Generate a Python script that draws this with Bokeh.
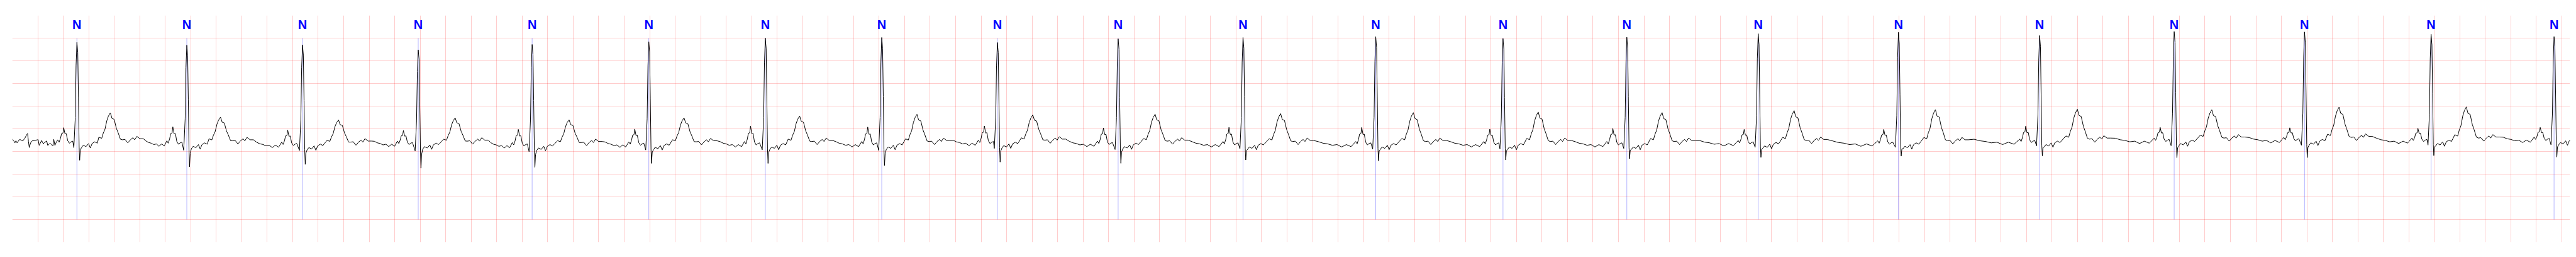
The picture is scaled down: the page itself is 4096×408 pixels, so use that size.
import numpy as np
from bokeh.plotting import figure
from bokeh.models import Range1d, FixedTicker, Grid, ColumnDataSource
from bokeh.core.properties import value
from bokeh.embed import file_html
from bokeh.resources import INLINE

# ---------------- data (time in s, amplitude in mV) ----------------
r_time = [0.5072, 1.3691, 2.2767, 3.1845, 4.0781, 4.9932, 5.9071, 6.8206, 7.7276, 8.6749,
          9.6544, 10.6956, 11.6938, 12.6652, 13.6957, 14.7959, 15.9031, 16.9588, 17.9812,
          18.9741, 19.9388]
r_amp = [2.406, 2.343, 2.350, 2.242, 2.360, 2.418, 2.502, 2.514, 2.403, 2.484, 2.514,
         2.532, 2.489, 2.519, 2.597, 2.628, 2.557, 2.645, 2.635, 2.587, 2.534]
s_amp = [-0.193, -0.338, -0.285, -0.369, -0.348, -0.263, -0.263, -0.308, -0.233, -0.261,
         -0.187, -0.205, -0.187, -0.159, -0.129, -0.104, -0.097, -0.137, -0.135, -0.089, -0.122]
t_time = [0.7694, 1.6334, 2.5592, 3.4743, 4.3679, 5.2696, 6.1766, 7.0970, 8.0054, 8.9647,
          9.9495, 10.9907, 11.9702, 12.9417, 13.9775, 15.0857, 16.1994, 17.2540, 18.2523, 19.2505]
t_amp = [0.853, 0.757, 0.696, 0.742, 0.699, 0.742, 0.782, 0.819, 0.807, 0.822, 0.835,
         0.857, 0.870, 0.857, 0.900, 0.923, 0.931, 0.921, 0.978, 0.983]
p_time = [0.4036, 1.2596, 2.1607, 3.0683, 3.9697, 4.8831, 5.7912, 6.7106, 7.6257, 8.5595,
          9.5443, 10.5856, 11.5905, 12.5552, 13.5857, 14.6805, 15.7942, 16.8488, 17.8658,
          18.8708, 19.8301]
p_amp = [0.525, 0.543, 0.472, 0.462, 0.487, 0.495, 0.558, 0.538, 0.563, 0.520, 0.532,
         0.530, 0.492, 0.510, 0.487, 0.487, 0.558, 0.532, 0.523, 0.513, 0.530]
base = [0.198, 0.175, 0.147, 0.168, 0.137, 0.153, 0.160, 0.160, 0.190, 0.168, 0.160,
        0.160, 0.160, 0.160, 0.183, 0.175, 0.213, 0.236, 0.251, 0.236, 0.258]
labels = ["N"] * len(r_time)

# trace before the first beat
lead_t = [0.0000, 0.0099, 0.0207, 0.0287, 0.0381, 0.0475, 0.0582, 0.0690, 0.0824, 0.0996,
          0.1132, 0.1200, 0.1269, 0.1334, 0.1436, 0.1548, 0.1750, 0.2031, 0.2112, 0.2300,
          0.2434, 0.2568, 0.2703, 0.2783, 0.2971, 0.3185, 0.3255, 0.3346, 0.3454]
lead_v = [0.268, 0.243, 0.190, 0.236, 0.190, 0.228, 0.268, 0.251, 0.232, 0.296,
          0.372, 0.398, 0.224, 0.087, 0.190, 0.232, 0.243, 0.261, 0.134, 0.243,
          0.171, 0.205, 0.232, 0.134, 0.183, 0.122, 0.268, 0.134, 0.205]

# beat shape read from the first beat: offset (s), part, fraction of that part's height
# ('n' = plain offset in mV from the baseline)
p_dt = [-0.047, -0.036, -0.025, -0.017, -0.006, 0.0, 0.010, 0.020, 0.031, 0.044, 0.058, 0.071]
p_kind = ["n", "n", "p", "p", "p", "p", "p", "p", "p", "n", "n", "n"]
p_val = [0.060, 0.008, 0.29, 0.60, 0.64, 1.0, 0.58, 0.60, 0.13, -0.015, 0.015, 0.030]

q_dt = [-0.024, -0.013, -0.0067, 0.0, 0.0067, 0.012, 0.0174, 0.0215, 0.0268, 0.036, 0.050,
        0.071, 0.091, 0.105, 0.119, 0.140, 0.160]
q_kind = ["s", "r", "r", "r", "r", "r", "s", "s", "s", "n", "n", "n", "n", "n", "n", "n", "n"]
q_val = [0.29, 0.25, 0.77, 1.0, 0.9, 0.445, 0.25, 1.0, 0.42, -0.113, -0.060, -0.091, -0.023,
         -0.121, -0.023, 0.015, -0.015]

tw_dt = [-0.090, -0.068, -0.055, -0.042, -0.028, -0.015, 0.0, 0.013, 0.030, 0.047, 0.060,
         0.079, 0.095, 0.115, 0.137, 0.157, 0.177, 0.191, 0.208, 0.232, 0.259]
tw_kind = ["t"] * 12 + ["n"] * 9
tw_val = [0.18, 0.14, 0.32, 0.45, 0.73, 0.89, 1.0, 0.81, 0.78, 0.48, 0.34, 0.11,
          0.060, 0.068, -0.008, 0.060, 0.106, 0.060, 0.136, 0.083, 0.083]

tp_val = [0.057, 0.023, 0.008, -0.023, -0.008, -0.060, -0.008, -0.053]

# ---------------- build the trace ----------------
amps = {"p": p_amp, "r": r_amp, "s": s_amp, "t": t_amp}


def level(kind, frac, i, b):
    if kind == "n":
        return b + frac
    return b + frac * (amps[kind][i] - b)


xs, ys = list(lead_t), list(lead_v)
nb = len(r_time)
for i in range(nb):
    b = base[i]
    for dt, k, f in zip(p_dt, p_kind, p_val):
        xs.append(p_time[i] + dt); ys.append(level(k, f, i, b))
    for dt, k, f in zip(q_dt, q_kind, q_val):
        xs.append(r_time[i] + dt); ys.append(level(k, f, i, b))
    if i < len(t_time):
        for dt, k, f in zip(tw_dt, tw_kind, tw_val):
            xs.append(t_time[i] + dt); ys.append(level(k, f, i, b))
        if i + 1 < nb:
            g0 = t_time[i] + tw_dt[-1]
            g1 = p_time[i + 1] + p_dt[0]
            m = len(tp_val)
            for j, f in enumerate(tp_val):
                xs.append(g0 + (j + 1) * (g1 - g0) / (m + 1)); ys.append(base[i + 1] + f)

# ---------------- figure ----------------
p = figure(width=4092, height=408, output_backend="svg", toolbar_location=None,
           x_axis_location=None, y_axis_location=None,
           x_range=Range1d(0, 20.064), y_range=Range1d(-2.0, 3.0),
           min_border_left=19, min_border_right=6, min_border_top=24, min_border_bottom=24)
p.outline_line_color = None
p.background_fill_color = "white"
p.border_fill_color = "white"
p.xgrid.visible = False
p.ygrid.visible = False

xticks = [round(0.2 * k, 1) for k in range(101)]
yticks = [-2.0, -1.5, -1.0, -0.5, 0.0, 0.5, 1.0, 1.5, 2.0, 2.5]
gx = Grid(dimension=0, ticker=FixedTicker(ticks=xticks), grid_line_color="red",
          grid_line_alpha=0.25, grid_line_width=0.8)
gy = Grid(dimension=1, ticker=FixedTicker(ticks=yticks), grid_line_color="red",
          grid_line_alpha=0.25, grid_line_width=0.8)
p.add_layout(gx)
p.add_layout(gy)

ann = ColumnDataSource(dict(x=r_time, lab=labels))
p.segment(x0="x", y0=-1.5, x1="x", y1=2.5, source=ann, line_color="blue",
          line_alpha=0.5, line_width=0.6)
p.line(xs, ys, line_color="black", line_width=1.0)
p.text(x="x", y=2.796, text="lab", source=ann, text_align="center",
       text_baseline="alphabetic", text_color="blue", text_font=value("Liberation Sans"),
       text_font_style="bold", text_font_size="20px")

open("out.html", "w").write(file_html(p, INLINE))
